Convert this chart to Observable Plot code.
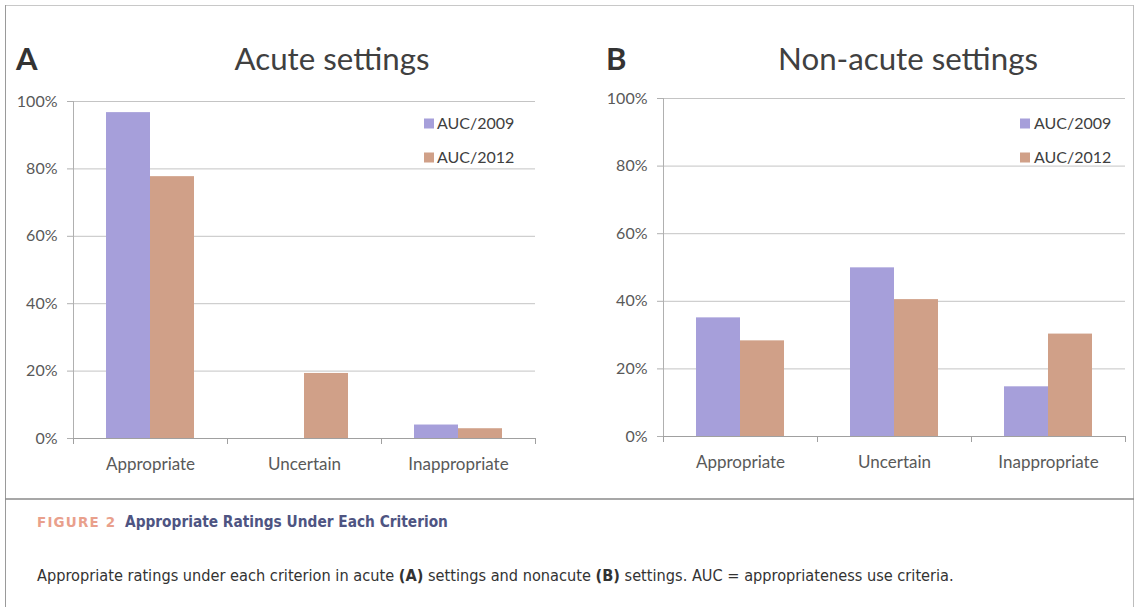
<!DOCTYPE html>
<html>
<head>
<meta charset="utf-8">
<script src="https://cdn.jsdelivr.net/npm/d3@7"></script>
<script src="https://cdn.jsdelivr.net/npm/@observablehq/plot@0.6"></script>
<style>
  html, body { margin: 0; padding: 0; background: #fff; }
  #wrap { position: relative; width: 1136px; height: 607px; overflow: hidden; background: #fff; }
  #wrap > svg { position: absolute; }
</style>
</head>
<body>
<div id="wrap"></div>
<script>
// ---------- data ----------
const categories = ["Appropriate", "Uncertain", "Inappropriate"];
const series = ["AUC/2009", "AUC/2012"];
const acute2009 = [0.967, 0.0, 0.04];
const acute2012 = [0.777, 0.193, 0.029];
const nonacute2009 = [0.351, 0.499, 0.147];
const nonacute2012 = [0.283, 0.405, 0.303];
const yTicks = [0, 0.2, 0.4, 0.6, 0.8, 1.0];
const seriesColors = ["#a69fda", "#d0a088"];
const panelTitles = ["Acute settings", "Non-acute settings"];
const panelLetters = ["A", "B"];
const figLabel = "FIGURE 2";
const figTitle = "Appropriate Ratings Under Each Criterion";
const captionParts = [
  ["Appropriate ratings under each criterion in acute ", false],
  ["(A)", true],
  [" settings and nonacute ", false],
  ["(B)", true],
  [" settings. AUC = appropriateness use criteria.", false]
];

const wrap = document.getElementById("wrap");
const FONT = "Lato, 'Open Sans', sans-serif";

// ---------- background frame ----------
const bg = d3.create("svg").attr("width", 1136).attr("height", 607).style("left", "0px").style("top", "0px");
bg.append("line").attr("x1", 5).attr("x2", 1133).attr("y1", 5.5).attr("y2", 5.5).attr("stroke", "#c8c8c8");
bg.append("line").attr("x1", 5.5).attr("x2", 5.5).attr("y1", 5).attr("y2", 607).attr("stroke", "#9a9a9a");
bg.append("line").attr("x1", 1133.5).attr("x2", 1133.5).attr("y1", 5).attr("y2", 607).attr("stroke", "#bdbdbd");
bg.append("line").attr("x1", 5).attr("x2", 1134).attr("y1", 499).attr("y2", 499).attr("stroke", "#8a8a8a").attr("stroke-width", 1.6);
wrap.appendChild(bg.node());

// ---------- panels ----------
function panel(v1, v2, m) {
  const data = categories.flatMap((c, i) => [
    {cat: c, series: series[0], v: v1[i]},
    {cat: c, series: series[1], v: v2[i]}
  ]);
  const plotH = 490 - m.top - m.bottom;
  return Plot.plot({
    width: 568,
    height: 490,
    marginLeft: m.left,
    marginRight: m.right,
    marginTop: m.top,
    marginBottom: m.bottom,
    style: {fontFamily: FONT, background: "none", color: "#595959"},
    fx: {domain: categories, padding: 0, label: null},
    x: {domain: series, paddingInner: 0, paddingOuter: 0.75, axis: null},
    y: {domain: [0, 1], label: null, axis: null},
    color: {domain: series, range: seriesColors},
    marks: [
      Plot.gridY(yTicks, {stroke: "#c4c4c4", strokeOpacity: 1}),
      Plot.barY(data, {fx: "cat", x: "series", y: "v", fill: "series"}),
      Plot.ruleY([0], {stroke: "#a0a0a0"}),
      Plot.frame({anchor: "left", stroke: "#b0b0b0", facetAnchor: "left"}),
      Plot.frame({anchor: "left", stroke: "#a0a0a0", insetTop: plotH, insetBottom: -5}),
      Plot.frame({anchor: "right", stroke: "#a0a0a0", insetTop: plotH, insetBottom: -5}),
      Plot.axisY(yTicks, {
        tickFormat: d3.format(".0%"), tickSize: 6, tickPadding: 10,
        fontSize: 16, stroke: "#b0b0b0", fill: "#595959", label: null
      }),
      Plot.axisFx({anchor: "bottom", tickSize: 0, tickPadding: 19, fontSize: 17, fill: "#595959", label: null})
    ]
  });
}

const left = panel(acute2009, acute2012, {left: 73, right: 33, top: 101, bottom: 52});
left.style.left = "0px"; left.style.top = "0px";
wrap.appendChild(left);

const right = panel(nonacute2009, nonacute2012, {left: 94, right: 11, top: 98, bottom: 54});
right.style.left = "568px"; right.style.top = "0px";
wrap.appendChild(right);

// ---------- overlay: titles, legends, caption ----------
const ov = d3.create("svg").attr("width", 1136).attr("height", 607).style("left", "0px").style("top", "0px");
wrap.appendChild(ov.node());

function fit(sel, target) {
  const node = sel.node();
  const size = parseFloat(sel.attr("font-size"));
  const w = node.getComputedTextLength();
  if (w > 0) sel.attr("font-size", (size * target / w).toFixed(2));
  return parseFloat(sel.attr("font-size"));
}

// panel letters
[[16, panelLetters[0]], [606, panelLetters[1]]].forEach(([x, t]) => {
  ov.append("text").attr("x", x).attr("y", 70).attr("font-family", FONT)
    .attr("font-weight", "bold").attr("font-size", 31).attr("fill", "#333").text(t);
});
// panel titles
const t1 = ov.append("text").attr("x", 332).attr("y", 70).attr("text-anchor", "middle")
  .attr("font-family", FONT).attr("font-size", 30).attr("fill", "#404040").text(panelTitles[0]);
const tsize = fit(t1, 195);
ov.append("text").attr("x", 908).attr("y", 70).attr("text-anchor", "middle")
  .attr("font-family", FONT).attr("font-size", tsize).attr("fill", "#404040").text(panelTitles[1]);

// legends
[[424, 437], [1020, 1034]].forEach(([sx, tx]) => {
  series.forEach((s, i) => {
    const cy = 123.5 + i * 34;
    ov.append("rect").attr("x", sx).attr("y", cy - 5).attr("width", 10).attr("height", 10).attr("fill", seriesColors[i]);
    ov.append("text").attr("x", tx).attr("y", cy).attr("dy", "0.36em").attr("font-family", FONT)
      .attr("font-size", 16).attr("fill", "#404040").text(s);
  });
});

// caption
const CAP = "'Liberation Sans Narrow', 'DejaVu Sans Condensed', 'Roboto', sans-serif";
const fl = ov.append("text").attr("x", 37).attr("y", 527).attr("font-family", CAP)
  .attr("font-weight", "bold").attr("font-size", 14).attr("letter-spacing", "1.2px")
  .attr("fill", "#e9a08c").text(figLabel);
fit(fl, 80);
const ft = ov.append("text").attr("x", 125).attr("y", 527).attr("font-family", CAP)
  .attr("font-weight", "bold").attr("font-size", 15).attr("fill", "#4e5482").text(figTitle);
fit(ft, 323);
const cap = ov.append("text").attr("x", 37).attr("y", 581).attr("font-family", CAP)
  .attr("font-size", 16).attr("fill", "#333");
captionParts.forEach(([t, b]) => cap.append("tspan").attr("font-weight", b ? "bold" : null).text(t));
fit(cap, 918);
</script>
</body>
</html>
